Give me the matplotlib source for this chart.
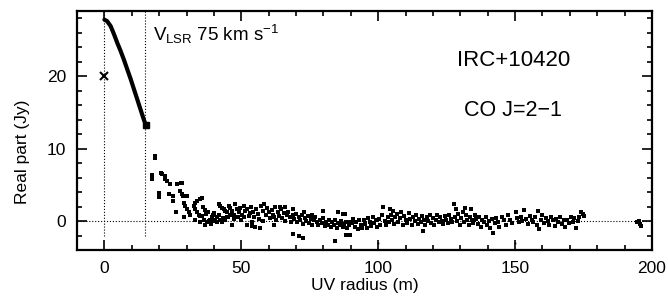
import matplotlib
matplotlib.use("Agg")
import matplotlib.pyplot as plt
import numpy as np
from matplotlib.ticker import MultipleLocator

plt.rcParams['font.family'] = ['Liberation Sans', 'DejaVu Sans']
plt.rcParams['mathtext.fontset'] = 'custom'
plt.rcParams['mathtext.rm'] = 'Liberation Sans'
plt.rcParams['mathtext.it'] = 'Liberation Sans'

# model curve (inner uv range)
model_r = [0.0, 1.0, 2.3, 3.5, 4.7, 5.9, 7.1, 8.3, 9.6, 10.8, 12.0, 13.2, 14.4, 15.2]
model_re = [27.8, 27.6, 26.9, 25.8, 24.6, 23.5, 22.3, 21.0, 19.6, 18.2, 16.8, 15.4, 14.0, 13.2]

# zero-spacing flux
zero_r = [0.0]
zero_re = [20.0]

# observed visibilities (UV radius m, real part Jy)
obs_r = [
    17.5, 17.5, 18.3, 18.4, 19.9, 19.9, 20.5, 21.1, 22.0, 22.3, 22.9, 23.5, 23.9, 25.1, 25.1,
    26.3, 26.6, 27.5, 27.8, 28.4, 28.4, 28.8, 29.0, 29.0, 29.6, 30.2, 30.2, 30.8, 31.4, 32.6,
    33.2, 33.9, 35.1, 35.7, 33.2, 33.9, 34.4, 35.1, 35.7, 33.2, 34.8, 36.3, 36.9, 37.5, 38.1,
    38.7, 39.3, 39.7, 39.9, 40.5, 41.2, 42.4, 43.0, 36.0, 36.6, 37.2, 38.0, 38.9, 40.0, 41.0,
    41.8, 43.5, 44.2, 44.8,
    41.7, 42.4, 43.0, 43.6, 44.2, 44.8, 45.4, 46.0, 46.6, 47.2, 47.8, 48.4, 49.0, 49.6, 50.3,
    50.9, 51.5, 52.1, 52.7, 52.1, 46.6, 45.0, 46.0, 47.5, 48.8, 49.9, 51.0, 53.2, 53.9, 55.1, 56.9,
    53.5, 54.2, 54.8, 55.5, 56.1, 56.6, 57.2, 57.8, 58.3, 58.9, 59.5, 60.0, 60.6, 61.1, 61.7,
    62.3, 62.8, 63.4, 63.9, 64.5, 65.0, 65.6, 66.1, 66.7, 67.2, 67.8, 68.3, 68.9, 69.4, 70.0,
    70.5, 71.1, 71.6, 72.2, 72.7, 73.3, 73.8, 74.4, 74.9, 75.5, 76.0, 76.6, 77.1, 77.7, 78.2,
    78.8, 79.3, 79.9, 80.4, 81.0, 81.5, 82.1, 82.6, 83.2, 83.7, 84.3, 84.8, 85.4, 85.9, 86.5,
    87.0, 87.6, 88.1, 88.7, 89.2, 89.8,
    54.0, 58.0, 62.0, 66.0, 69.0, 73.0, 76.0, 80.0, 85.4, 87.3, 69.0, 70.9, 72.7, 84.2, 62.0, 64.0,
    87.9, 88.4, 89.6, 90.3, 90.8, 91.4, 91.9, 92.5, 93.0, 93.6, 94.1, 94.7, 95.2, 95.8, 96.3,
    96.9, 97.4, 98.0, 98.5, 99.1, 99.6, 100.2, 100.7, 101.3, 101.8, 102.4, 102.9, 103.5,
    104.0, 104.3, 104.6, 105.1, 105.5, 105.7, 106.2, 106.8, 107.3, 107.9, 108.4, 109.0, 109.5,
    110.1, 110.6, 111.2, 111.7, 112.3, 112.8, 113.4, 113.9, 114.5, 115.0, 115.6, 116.1, 116.4,
    116.7, 117.2, 117.8, 118.3, 118.9, 119.4, 120.0, 120.5, 121.1, 121.6, 122.2, 122.7, 123.3,
    123.8, 124.4, 124.9, 125.5, 126.0, 126.6, 127.1, 127.6, 128.2, 128.5, 128.7, 129.3, 129.8,
    130.4, 130.9, 131.5, 131.6, 132.0, 132.6, 133.1, 133.7, 134.0, 134.2, 134.8, 135.3, 135.9,
    136.4, 137.0, 137.5, 138.1, 138.6, 139.2, 139.7, 140.3, 140.8, 141.4, 141.9, 142.5, 143.0,
    143.6, 144.3, 145.2, 146.0, 146.8, 147.5, 148.3, 149.0, 150.3, 150.6, 151.3, 152.0,
    152.7, 153.4, 154.0, 154.7, 155.3, 156.0, 156.6, 157.3, 158.0, 158.3, 158.9, 159.3, 160.0,
    160.6, 161.2, 161.9, 162.5, 163.2, 163.8, 164.5, 165.1, 165.8, 166.4, 167.1, 167.7, 168.4,
    169.0, 169.7, 170.3, 171.0, 171.6, 172.2, 172.9, 173.5, 174.0, 174.7, 175.3,
    194.7, 195.3, 195.9, 195.6,
]
obs_re = [
    6.4, 5.8, 9.0, 8.7, 3.9, 3.3, 6.7, 6.5, 6.2, 5.8, 5.5, 3.8, 5.1, 3.4, 2.8,
    1.2, 5.1, 4.1, 5.2, 5.2, 3.7, 3.4, 2.5, 0.5, 2.1, 1.6, 3.4, 1.2, 0.9, 2.1,
    2.5, 2.8, 3.0, 3.2, 1.6, 1.2, 0.9, 0.7, 0.7, 0.1, -0.1, 0.1, -0.5, -0.2, 0.0,
    0.2, 0.5, 0.9, 0.0, 0.2, 0.5, 0.2, -0.1, 1.9, 1.5, 1.0, 1.3, -0.4, 1.1, -0.2,
    0.8, 0.4, 0.1, 0.6,
    2.3, 2.1, 1.8, 1.6, 1.4, 1.2, 2.1, 1.8, 1.4, 0.9, 2.3, 1.6, 1.2, 1.8, 0.9,
    2.1, 1.4, 1.6, 0.7, -0.5, -0.5, 0.5, 0.9, 0.3, 0.6, 0.2, 0.5, 1.1, -0.7, -0.8, -0.9,
    2.0, 1.3, 0.6, 1.7, 1.0, 0.3, 2.1, 1.4, 2.3, 0.8, 1.8, 1.2, 0.4, 1.5, 0.9,
    2.0, 0.2, 1.3, 0.7, 1.6, 0.4, 1.1, 0.0, 0.8, 1.3, 0.5, -0.2, 0.9, 0.3, 1.0,
    -0.1, 0.6, 0.2, 0.8, -0.4, 0.4, 0.0, 0.7, -0.3, 0.3, -0.5, 0.1, 0.5, -0.2, -0.6,
    0.2, -0.3, 0.4, -0.7, -0.1, -0.5, 0.2, -0.8, -0.2, -0.6, 0.1, -0.9, -0.3, -0.6, 0.0,
    -0.8, -0.4, -0.1, -0.9, -0.5, -0.2,
    -0.2, 0.0, 0.5, 1.9, 1.6, 1.3, 0.9, 1.4, 1.2, 1.0, -1.8, -2.1, -2.3, -2.8, -0.5, 1.9,
    1.0, -1.9, -1.9, -0.3, 0.3, -0.8, -0.1, -1.1, 0.2, -0.5, -0.9, 0.1, -0.4, -1.0, 0.4,
    -0.2, -0.7, 0.6, -0.3, 0.1, -0.8, 0.3, -0.5, 0.8, 1.9, 0.0, -0.6, 0.5,
    -0.2, 1.6, 0.9, 0.2, 1.4, -0.4, 0.6, 1.0, -0.1, 0.4, 1.2, -0.5, 0.7,
    0.1, -0.3, 1.1, 0.3, -0.6, 0.5, 0.0, 0.9, -0.4, 0.3, -0.1, 0.7, -1.4,
    0.2, -0.5, 0.6, 0.0, 0.9, -0.3, 0.4, -0.6, 0.2, 0.8, -0.2, 0.5, 0.0,
    -0.4, 0.7, 0.1, -0.3, 0.9, 0.3, -0.2, 2.4, 0.6, 1.6, 0.0, 1.0, -0.5,
    0.4, 1.2, -0.1, 1.75, 0.8, 0.2, -0.6, 0.6, 1.6, 0.1, -0.3, 0.9, 0.3,
    -0.4, 0.5, -0.8, 0.2, -0.2, 0.6, -0.5, 0.0, -0.9, 0.3, -1.6, -0.3, 0.4,
    -0.2, -0.8, 0.5, 0.1, -0.5, 0.8, 0.2, -0.3, 1.2, 0.4, -0.1, 0.6,
    0.0, 1.5, 0.3, -0.4, 0.7, 0.1, -0.2, 0.5, -0.6, 1.4, -1.1, 0.2, 0.8,
    -0.3, 0.4, 0.0, -0.5, 0.6, 0.1, -0.7, 0.3, -0.2, 0.5, -0.4, 0.1, -0.8,
    0.2, -0.3, 0.6, -0.1, 0.4, -0.9, 0.0, 0.5, 1.3, 1.0, 0.7,
    -0.1, 0.0, -0.7, -0.4,
]

# faint single-pixel outliers
faint_r = [100.0, 149.8]
faint_re = [-3.0, -3.0]

fig = plt.figure(figsize=(6.68, 2.96), dpi=100)
ax = fig.add_axes([0.1153, 0.1554, 0.8607, 0.8074])

ax.axhline(0, color='black', ls=':', lw=0.8)
ax.plot([0, 0], [-2, 29], color='black', ls=':', lw=0.8)
ax.plot([15, 15], [-2, 29], color='black', ls=':', lw=0.8)

ax.plot(model_r, model_re, color='black', lw=3, solid_capstyle='round')
ax.plot(model_r[-1:], model_re[-1:], 's', color='black', ms=5)
ax.plot(zero_r, zero_re, 'x', color='black', ms=6, mew=1.5)
ax.plot(obs_r, obs_re, 's', color='black', ms=2.6, mew=0, ls='none')
ax.plot(faint_r, faint_re, 's', color='black', ms=1.2, mew=0, ls='none')

ax.set_xlim(-10, 200)
ax.set_ylim(-4, 29)
ax.xaxis.set_major_locator(MultipleLocator(50))
ax.xaxis.set_minor_locator(MultipleLocator(10))
ax.yaxis.set_major_locator(MultipleLocator(10))
ax.yaxis.set_minor_locator(MultipleLocator(2))
ax.tick_params(which='both', direction='in', top=True, right=True, width=1.2)
ax.tick_params(which='major', length=7, labelsize=12.5, pad=8)
ax.tick_params(which='minor', length=3.5)
for s in ax.spines.values():
    s.set_linewidth(1.6)

ax.set_xlabel('UV radius (m)', fontsize=12.5, labelpad=1)
fig.text(22 / 668, 1 - 152 / 296, 'Real part (Jy)', rotation=90, fontsize=12.5,
         ha='center', va='center')

ax.text(17.6, 25.8, r'V$_{\mathrm{LSR}}$ 75 km s$^{-1}$', fontsize=13.5, va='center', ha='left')
ax.text(149.4, 22.1, 'IRC+10420', fontsize=16, ha='center', va='center')
ax.text(149.4, 15.3, 'CO J=2\u22121', fontsize=15.5, ha='center', va='center')

fig.savefig('out.png', dpi=100)
